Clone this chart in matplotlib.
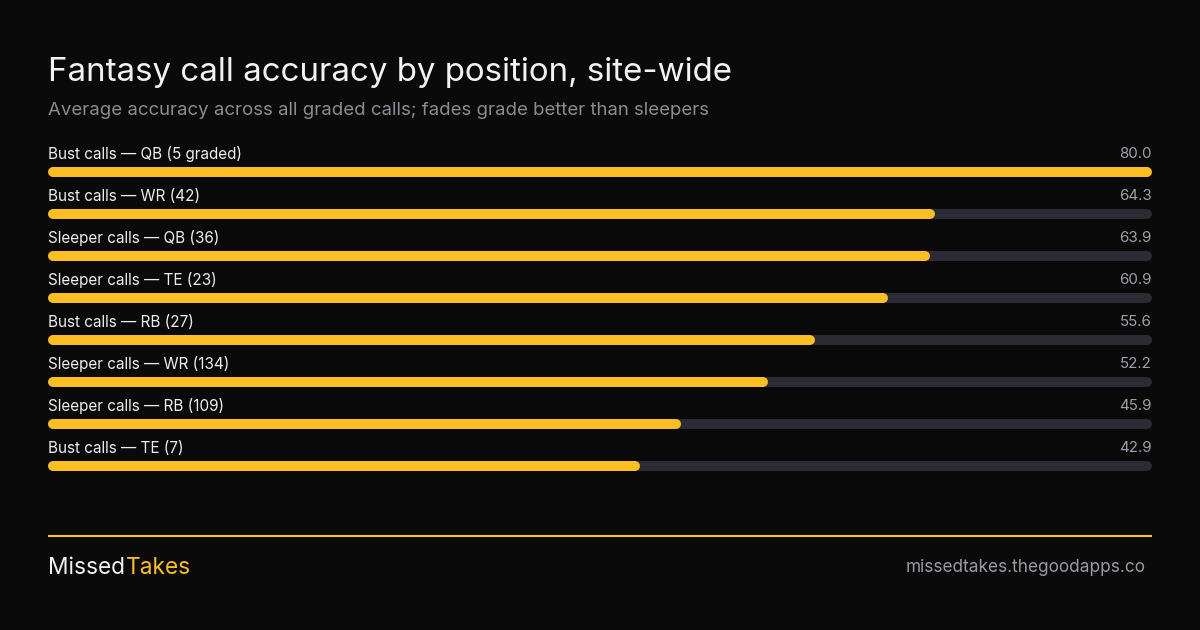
import matplotlib
matplotlib.use("Agg")
import matplotlib.pyplot as plt
from matplotlib.transforms import blended_transform_factory

plt.rcParams['font.family'] = ['Inter', 'DejaVu Sans']

# data
labels = ["Bust calls \u2014 QB (5 graded)", "Bust calls \u2014 WR (42)", "Sleeper calls \u2014 QB (36)",
          "Sleeper calls \u2014 TE (23)", "Bust calls \u2014 RB (27)", "Sleeper calls \u2014 WR (134)",
          "Sleeper calls \u2014 RB (109)", "Bust calls \u2014 TE (7)"]
accuracy = [80.0, 64.3, 63.9, 60.9, 55.6, 52.2, 45.9, 42.9]
scale_max = 80.0

title = "Fantasy call accuracy by position, site-wide"
subtitle = "Average accuracy across all graded calls; fades grade better than sleepers"
url = "missedtakes.thegoodapps.co"

BG = "#0a0a0a"
YELLOW = "#fbbf24"
TRACK = "#2c2a32"
W, H = 1200, 630

fig = plt.figure(figsize=(W / 100, H / 100), dpi=100, facecolor=BG)

# overlay axes in pixel units for title / footer
top = fig.add_axes([0, 0, 1, 1])
top.set_xlim(0, W)
top.set_ylim(H, 0)
top.axis("off")
top.text(48, 72, title, fontsize=23.8, color="#f2f2f2", va="center", ha="left")
top.text(48, 110.5, subtitle, fontsize=13.4, color="#8b8b94", va="center", ha="left")
top.plot([48, 1152], [535.5, 535.5], color=YELLOW, lw=1.5, solid_capstyle="butt")
t1 = top.text(48, 567.5, "Missed", fontsize=16.3, color="#f2f2f2", va="center", ha="left")
fig.canvas.draw()
bb = t1.get_window_extent()
top.text(48 + bb.width + 1, 567.5, "Takes", fontsize=16.3, color=YELLOW, va="center", ha="left")
top.text(1146, 567.5, url, fontsize=12.4, color="#9a9aa2", va="center", ha="right")

# bar axes: rows 42 px apart, first bar centre at y=172
n = len(labels)
ax_w = 1104
ax = fig.add_axes([48 / W, 1 - 487 / H, ax_w / W, 336 / H])
ax.set_facecolor("none")
ax.axis("off")
lw_px = 10
pad = (lw_px / 2) / ax_w * scale_max  # room for the round caps
ax.set_xlim(0, scale_max)
ax.set_ylim(n - 0.5, -0.5)

tr = blended_transform_factory(ax.transAxes, ax.transData)
for i, (lab, v) in enumerate(zip(labels, accuracy)):
    ax.plot([pad, scale_max - pad], [i, i], color=TRACK, lw=lw_px * 0.72, solid_capstyle="round")
    ax.plot([pad, v - pad], [i, i], color=YELLOW, lw=lw_px * 0.72, solid_capstyle="round")
    ax.text(0, i - 17.5 / 42, lab, transform=tr, fontsize=11, color="#ededed", va="center", ha="left")
    ax.text(1.0, i - 17.5 / 42, f"{v:.1f}", transform=tr, fontsize=10.9, color="#a0a0a8", va="center", ha="right")

fig.savefig("out.png", dpi=100, facecolor=BG)
